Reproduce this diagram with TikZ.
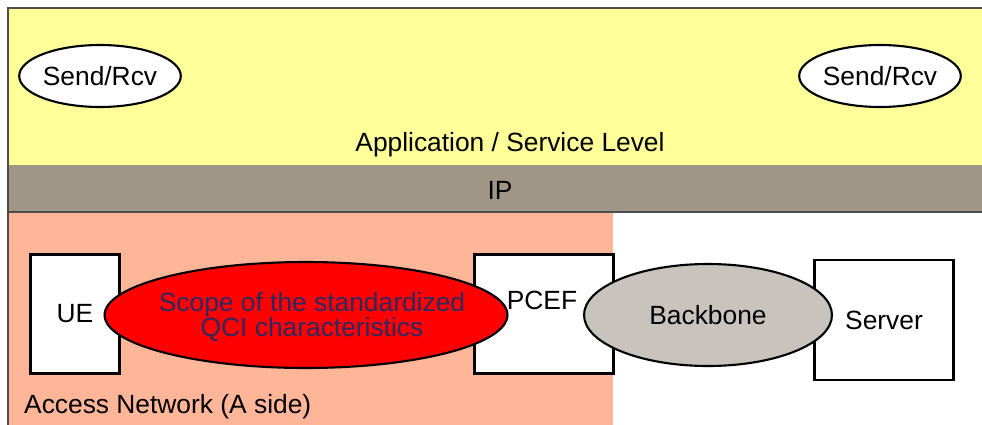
\documentclass[tikz,border=0pt]{standalone}
\usepackage{fontspec}
\setmainfont{Liberation Sans}
\usetikzlibrary{shapes.geometric}

\definecolor{applevel}{RGB}{255,255,153}
\definecolor{iplevel}{RGB}{160,150,135}
\definecolor{accessnet}{RGB}{255,181,152}
\definecolor{bbgray}{RGB}{200,195,189}
\definecolor{scopetext}{RGB}{45,40,95}

\tikzset{
  sendrcv/.style={ellipse, draw, line width=1.2pt, fill=white, inner sep=0pt,
    minimum width=3.1cm, minimum height=1.24cm},
  netbox/.style={rectangle, draw, line width=1.5pt, fill=white, inner sep=0pt},
}

\begin{document}
\begin{tikzpicture}[x=0.02cm,y=-0.02cm,font=\fontsize{15}{14.5}\selectfont]
\useasboundingbox (0,0) rectangle (982,425);
% layers
\fill[applevel](8,8) rectangle (982,165);
\fill[iplevel](8,165) rectangle (982,212);
\fill[accessnet](8,212) rectangle (613,425);
\draw[line width=1.2pt,gray!60!black](8,425)--(8,8)--(982,8);
\draw[line width=0.6pt,gray!60!black](8,212)--(982,212);

\node[sendrcv] at (100,76) (sr1) {Send/Rcv};
\node[sendrcv] at (880,76) (sr2) {Send/Rcv};
\node at (510,145) (app) {Application / Service Level};
\node at (500,190) (ip) {IP};

% boxes
\node[netbox, minimum width=1.78cm, minimum height=2.38cm] at (75,314) (ue) {UE};
\node[netbox, minimum width=2.78cm, minimum height=2.38cm] at (544,314) (pcef) {};
\node[netbox, minimum width=2.78cm, minimum height=2.4cm] at (884,320) (server) {Server};
\node at (542,300) (pceflbl) {PCEF};

% ellipses on top
\filldraw[line width=1.2pt, fill=red](306,315) ellipse [x radius=4.03cm, y radius=1.06cm];
\node[text=scopetext, align=center] at (312,317) (qci) {Scope of the standardized\\QCI characteristics};
\node[ellipse, draw, line width=1.2pt, fill=bbgray, inner sep=0pt,
  minimum width=4.96cm, minimum height=2.04cm] at (708,315) (bb) {Backbone};

\node[anchor=west] at (18,407) (an) {Access Network (A side)};
\end{tikzpicture}
\end{document}
